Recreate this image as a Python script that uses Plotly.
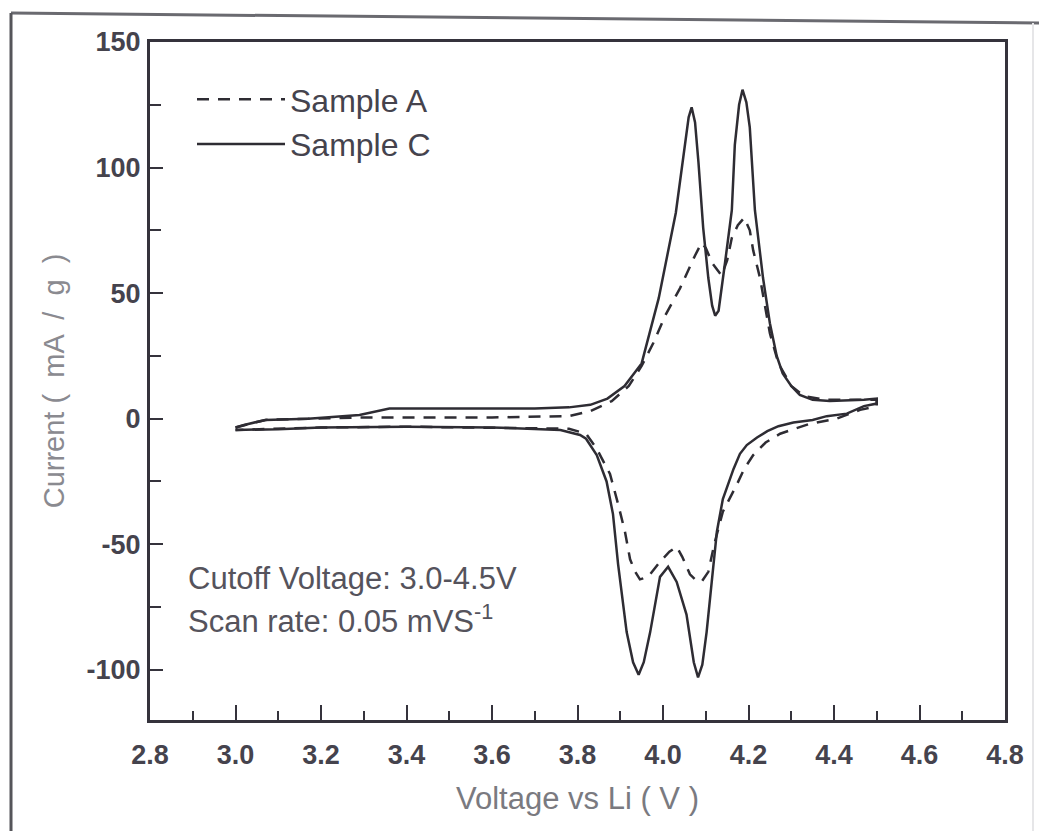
import plotly.graph_objects as go

# ---------------- data ----------------
# Sample C (solid): anodic sweep 3.0 -> 4.5 V, then cathodic sweep 4.5 -> 3.0 V
sample_c_voltage = [
    3.00, 3.02, 3.07, 3.17, 3.29, 3.36, 3.50, 3.70, 3.78, 3.83, 3.87, 3.91, 3.95,
    3.99, 4.03, 4.05, 4.06, 4.067, 4.075, 4.083, 4.094, 4.106, 4.115, 4.122, 4.13,
    4.145, 4.161, 4.168, 4.178, 4.186, 4.195, 4.203, 4.215, 4.234, 4.25, 4.266,
    4.28, 4.30, 4.32, 4.35, 4.39, 4.47, 4.50,
    4.50, 4.47, 4.43, 4.383, 4.35, 4.305, 4.27, 4.244, 4.22, 4.196, 4.18, 4.165,
    4.14, 4.126, 4.114, 4.102, 4.092, 4.082, 4.072, 4.055, 4.032, 4.012, 3.993,
    3.97, 3.955, 3.943, 3.93, 3.915, 3.895, 3.883, 3.868, 3.845, 3.82, 3.806,
    3.76, 3.60, 3.40, 3.20, 3.10, 3.00,
]
sample_c_current = [
    -3.5, -2.5, -0.5, 0.0, 1.5, 4.0, 4.0, 4.0, 4.5, 5.5, 8, 13, 22,
    48, 82, 108, 120, 124, 118, 102, 76, 56, 45, 41, 43,
    62, 83, 109, 125, 131, 126, 116, 83, 56, 38, 25,
    18, 13, 9.5, 7.5, 7, 7.5, 8,
    6, 5, 2, 1.0, -0.5, -1.5, -3, -5, -7.5, -10.5, -14, -20,
    -32, -45, -65, -85, -98, -103, -97, -78, -65, -59, -63,
    -85, -97, -102, -97, -85, -58, -38, -25, -14.5, -8, -6.5,
    -4.5, -3.5, -3.2, -3.5, -4.2, -4.5,
]

# Sample A (dashed)
sample_a_voltage = [
    3.00, 3.07, 3.17, 3.30, 3.40, 3.60, 3.78, 3.83, 3.88, 3.92, 3.95, 3.977,
    4.005, 4.04, 4.075, 4.09, 4.10, 4.115, 4.137, 4.15, 4.161, 4.175, 4.19,
    4.203, 4.211, 4.227, 4.25, 4.27, 4.30, 4.33, 4.38, 4.47, 4.50,
    4.50, 4.461, 4.406, 4.344, 4.274, 4.24, 4.211, 4.19, 4.172, 4.14, 4.12,
    4.106, 4.09, 4.075, 4.063, 4.045, 4.032, 4.015, 3.993, 3.965, 3.946, 3.935,
    3.923, 3.911, 3.895, 3.876, 3.845, 3.82, 3.78, 3.60, 3.40, 3.20, 3.00,
]
sample_a_current = [
    -3.5, -0.5, 0.0, 0.5, 0.5, 0.5, 1.0, 3, 7, 13, 21, 30,
    41, 52, 65, 70, 68, 62, 57, 63, 72, 77, 80,
    75, 67, 56, 34, 22, 13, 9, 7.5, 7.5, 7.5,
    5, 3.5, 0, -2, -6, -9.5, -14.5, -20, -26.5, -37, -50,
    -61, -65, -64, -62, -55, -51, -53, -57, -63, -64, -61,
    -56, -45, -34, -22, -12, -6, -4, -3.5, -3.2, -3.5, -4.5,
]

series_names = ["Sample A", "Sample C"]

x_tick_values = [2.8, 3.0, 3.2, 3.4, 3.6, 3.8, 4.0, 4.2, 4.4, 4.6, 4.8]
x_tick_labels = ["2.8", "3.0", "3.2", "3.4", "3.6", "3.8", "4.0", "4.2", "4.4", "4.6", "4.8"]
y_tick_values = [-100, -50, 0, 50, 100, 150]
y_tick_labels = ["-100", "-50", "0", "50", "100", "150"]

# ---------------- figure ----------------
W, H = 1039, 831
L, R, T, B = 150, 34, 42, 111
PW, PH = W - L - R, H - T - B


def px(xp):
    return (xp - L) / PW


def py(yp):
    return (H - B - yp) / PH


line_col = "#2e2c33"
text_col = "#45434d"
font_family = "Liberation Sans, Arial, sans-serif"

fig = go.Figure()
fig.add_trace(go.Scatter(
    x=sample_a_voltage, y=sample_a_current, mode="lines", name=series_names[0],
    line=dict(color=line_col, width=2.5, dash="12px,9px"),
))
fig.add_trace(go.Scatter(
    x=sample_c_voltage, y=sample_c_current, mode="lines", name=series_names[1],
    line=dict(color=line_col, width=2.5),
))

axis_line = dict(showline=True, linecolor="#35333c", linewidth=3, mirror=True,
                 showgrid=False, zeroline=False)

fig.update_xaxes(
    range=[2.8, 4.8], tickmode="array", tickvals=x_tick_values, ticktext=x_tick_labels,
    ticks="inside", ticklen=15, tickwidth=2, tickcolor="#35333c",
    minor=dict(tickmode="linear", tick0=2.8, dtick=0.1, ticks="inside", ticklen=9,
               tickwidth=2, tickcolor="#35333c"),
    ticklabelstandoff=9,
    tickfont=dict(family=font_family, size=27, color=text_col, weight="bold"),
    title=dict(text="Voltage vs Li ( V )", standoff=18,
               font=dict(family=font_family, size=31, color="#7a7a80")),
    **axis_line,
)
fig.update_yaxes(
    range=[-120, 150], tickmode="array", tickvals=y_tick_values, ticktext=y_tick_labels,
    ticks="inside", ticklen=13, tickwidth=2, tickcolor="#35333c",
    minor=dict(tickmode="linear", tick0=0, dtick=25, ticks="inside", ticklen=11,
               tickwidth=2, tickcolor="#35333c"),
    ticklabelstandoff=1,
    tickfont=dict(family=font_family, size=27, color=text_col, weight="bold"),
    title=dict(text="Current (  mA  /  g  )", standoff=14,
               font=dict(family=font_family, size=29, color="#8a8a90")),
    **axis_line,
)

fig.add_annotation(xref="paper", yref="paper", x=px(186), y=py(578),
                   xanchor="left", yanchor="middle", showarrow=False,
                   text="Cutoff Voltage: 3.0-4.5V",
                   font=dict(family=font_family, size=31, color="#55535c"))
fig.add_annotation(xref="paper", yref="paper", x=px(186), y=py(619),
                   xanchor="left", yanchor="middle", showarrow=False,
                   text="Scan rate: 0.05 mVS<sup>-1</sup>",
                   font=dict(family=font_family, size=31, color="#55535c"))

# scanned page frame
fig.add_shape(type="line", xref="paper", yref="paper", x0=px(11), y0=py(13),
              x1=px(1039), y1=py(23), line=dict(color="#6a6a70", width=3))
fig.add_shape(type="line", xref="paper", yref="paper", x0=px(11), y0=py(13),
              x1=px(11), y1=py(831), line=dict(color="#55555a", width=3))
fig.add_shape(type="line", xref="paper", yref="paper", x0=px(1033), y0=py(23),
              x1=px(1033), y1=py(831), line=dict(color="#e6e6e8", width=2))

fig.update_layout(
    width=W, height=H,
    margin=dict(l=L, r=R, t=T, b=B),
    paper_bgcolor="white", plot_bgcolor="white",
    showlegend=True,
    legend=dict(x=px(192), y=py(72), xanchor="left", yanchor="top",
                bgcolor="rgba(0,0,0,0)", itemwidth=88, tracegroupgap=0,
                font=dict(family=font_family, size=32, color=text_col)),
)

fig.write_html("out.html")
